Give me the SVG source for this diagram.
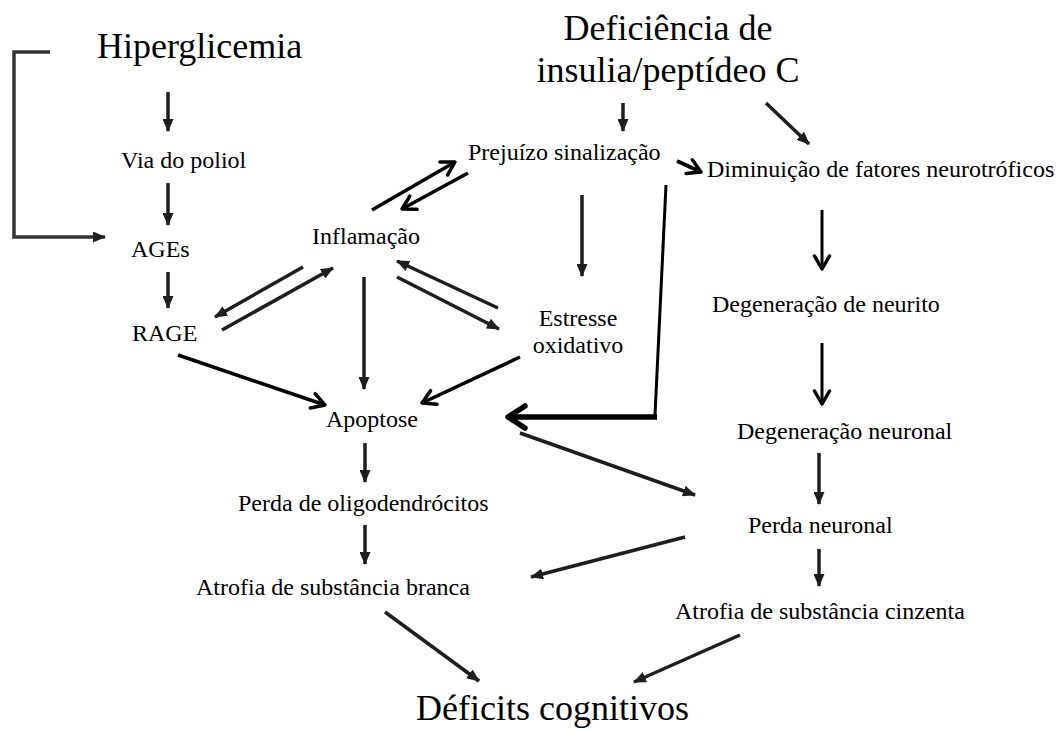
<svg xmlns="http://www.w3.org/2000/svg" width="1061" height="730" viewBox="0 0 1061 730">
<style>
text{font-family:"Liberation Serif","Times New Roman",serif;fill:#000}
.h{font-size:36px}
.l{font-size:24px}
.a{fill:none;stroke:#1e1e1e;stroke-width:3.5}
.c{fill:none;stroke:#000;stroke-width:3.5;stroke-linejoin:round}
.b{fill:none;stroke:#333;stroke-width:3.5}
</style>
<defs>
<marker id="tri" viewBox="0 0 13 11" refX="12" refY="5.5" markerWidth="13" markerHeight="11" markerUnits="userSpaceOnUse" orient="auto">
<path d="M0,0 L13,5.5 L0,11 z" fill="#1e1e1e"/>
</marker>
<marker id="trib" viewBox="0 0 13 11" refX="12" refY="5.5" markerWidth="13" markerHeight="11" markerUnits="userSpaceOnUse" orient="auto">
<path d="M0,0 L13,5.5 L0,11 z" fill="#222"/>
</marker>
<marker id="chev" viewBox="0 0 20 20" refX="18" refY="10" markerWidth="20" markerHeight="20" markerUnits="userSpaceOnUse" orient="auto">
<path d="M5,2.5 L18,10 L5,17.5" fill="none" stroke="#000" stroke-width="3.5" stroke-linejoin="round" stroke-linecap="round"/>
</marker>
<marker id="chevL" viewBox="0 0 28 28" refX="25" refY="14" markerWidth="28" markerHeight="28" markerUnits="userSpaceOnUse" orient="auto">
<path d="M8,3 L25,14 L8,25" fill="none" stroke="#000" stroke-width="5.5" stroke-linejoin="round" stroke-linecap="round"/>
</marker>
</defs>

<g id="connectors">
<path class="b" d="M50,52 L14,52 L14,237 L105,237" marker-end="url(#trib)"/>
<path class="a" d="M168,92 L168,131" marker-end="url(#tri)"/>
<path class="a" d="M168,183 L168,225" marker-end="url(#tri)"/>
<path class="a" d="M168,272 L168,308" marker-end="url(#tri)"/>
<path class="a" d="M303,267 L215,317" marker-end="url(#tri)"/>
<path class="a" d="M222,330 L333,268" marker-end="url(#tri)"/>
<path class="a" d="M364,277 L364,389" marker-end="url(#tri)"/>
<path class="a" d="M498,308 L397,261" marker-end="url(#tri)"/>
<path class="a" d="M397,277 L499,329" marker-end="url(#tri)"/>
<path class="a" d="M582,195 L582,276" marker-end="url(#tri)"/>
<path class="a" d="M623,103 L623,131" marker-end="url(#tri)"/>
<path class="a" d="M766,103 L809,144" marker-end="url(#tri)"/>
<path class="a" d="M365,443 L365,482" marker-end="url(#tri)"/>
<path class="a" d="M365,525 L365,564" marker-end="url(#tri)"/>
<path class="a" d="M520,433 L695,495" marker-end="url(#tri)"/>
<path class="a" d="M819,453 L819,504" marker-end="url(#tri)"/>
<path class="a" d="M819,549 L819,586" marker-end="url(#tri)"/>
<path class="a" d="M685,537 L531,577" marker-end="url(#tri)"/>
<path class="a" d="M385,612 L479,681" marker-end="url(#tri)"/>
<path class="a" d="M740,635 L634,682" marker-end="url(#tri)"/>
<path class="c" d="M372,210 L455,162" marker-end="url(#chev)"/>
<path class="c" d="M468,173 L402,209" marker-end="url(#chev)"/>
<path class="c" d="M178,355 L325,405" marker-end="url(#chev)"/>
<path class="c" d="M520,357 L422,403" marker-end="url(#chev)"/>
<path class="c" d="M666,185 L655,415" style="stroke-width:3"/>
<path class="c" d="M657,417 L508,417" style="stroke-width:5.5" marker-end="url(#chevL)"/>
<path class="c" d="M677,161 L701,172" style="stroke-width:4" marker-end="url(#chev)"/>
<path class="c" d="M822,210 L822,269" style="stroke-width:3" marker-end="url(#chev)"/>
<path class="c" d="M822,343 L822,404" style="stroke-width:3" marker-end="url(#chev)"/>
</g>

<g id="n-hiperglicemia"><text class="h" x="97" y="58">Hiperglicemia</text></g>
<g id="n-deficiencia"><text class="h" x="668" y="40" text-anchor="middle">Deficiência de</text><text class="h" x="668" y="82" text-anchor="middle">insulia/peptídeo C</text></g>
<g id="n-poliol"><text class="l" x="121" y="168">Via do poliol</text></g>
<g id="n-ages"><text class="l" x="131" y="257">AGEs</text></g>
<g id="n-rage"><text class="l" x="132" y="341">RAGE</text></g>
<g id="n-inflamacao"><text class="l" x="312" y="244">Inflamação</text></g>
<g id="n-prejuizo"><text class="l" x="468" y="160">Prejuízo sinalização</text></g>
<g id="n-diminuicao"><text class="l" x="707" y="177">Diminuição de fatores neurotróficos</text></g>
<g id="n-estresse"><text class="l" x="578" y="326" text-anchor="middle">Estresse</text><text class="l" x="578" y="353" text-anchor="middle">oxidativo</text></g>
<g id="n-neurito"><text class="l" x="712" y="312">Degeneração de neurito</text></g>
<g id="n-apoptose"><text class="l" x="326" y="427">Apoptose</text></g>
<g id="n-degneuronal"><text class="l" x="737" y="439">Degeneração neuronal</text></g>
<g id="n-oligo"><text class="l" x="238" y="511">Perda de oligodendrócitos</text></g>
<g id="n-perdaneuronal"><text class="l" x="748" y="533">Perda neuronal</text></g>
<g id="n-branca"><text class="l" x="196" y="595">Atrofia de substância branca</text></g>
<g id="n-cinzenta"><text class="l" x="675" y="619">Atrofia de substância cinzenta</text></g>
<g id="n-deficits"><text class="h" x="416" y="720">Déficits cognitivos</text></g>
</svg>
